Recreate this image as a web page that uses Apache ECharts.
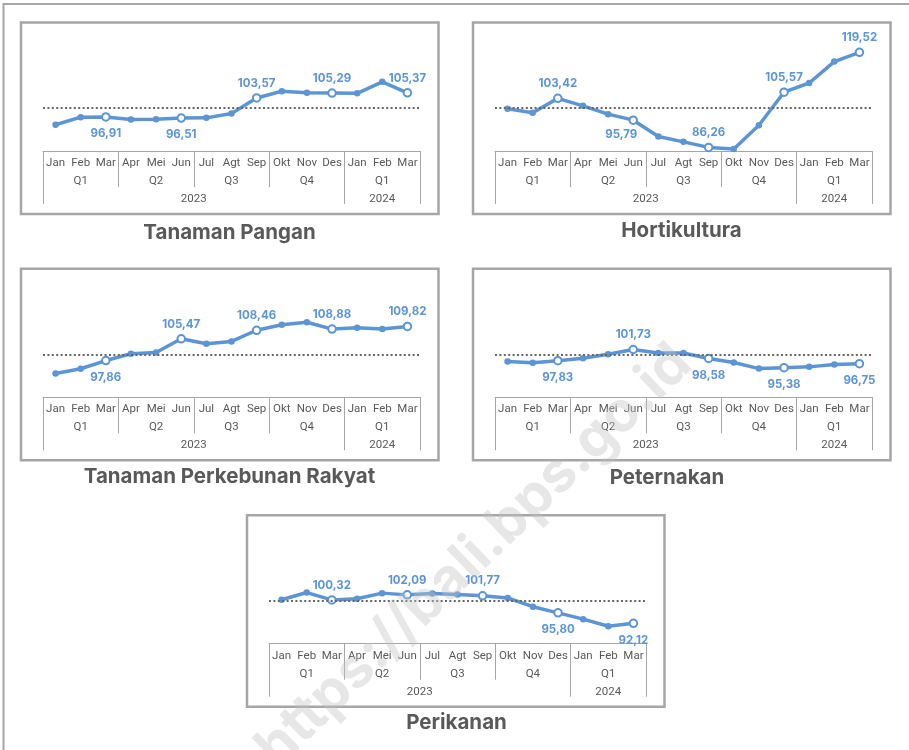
<!DOCTYPE html>
<html>
<head>
<meta charset="utf-8">
<script src="https://cdn.jsdelivr.net/npm/echarts@6/dist/echarts.min.js"></script>
<style>
html, body { margin: 0; padding: 0; background: #fff; }
#chart { width: 909px; height: 750px; }
</style>
</head>
<body>
<div id="chart"></div>
<script>
var months = ['Jan', 'Feb', 'Mar', 'Apr', 'Mei', 'Jun', 'Jul', 'Agt', 'Sep', 'Okt', 'Nov', 'Des', 'Jan', 'Feb', 'Mar'];
var quarters = ['Q1', 'Q2', 'Q3', 'Q4', 'Q1'];
var years = ['2023', '2024'];

var tanamanPangan = [94.2, 96.85, 96.91, 96.05, 96.1, 96.51, 96.6, 98.15, 103.57, 105.9, 105.35, 105.29, 105.2, 109.2, 105.37];
var hortikultura = [99.8, 98.4, 103.42, 100.8, 97.9, 95.79, 90.05, 88.2, 86.26, 85.7, 94.0, 105.57, 108.8, 116.3, 119.52];
var perkebunan = [93.35, 95.0, 97.86, 100.25, 100.7, 105.47, 103.75, 104.55, 108.46, 110.4, 111.25, 108.88, 109.35, 108.9, 109.82];
var peternakan = [97.55, 97.1, 97.83, 98.7, 100.1, 101.73, 100.5, 100.5, 98.58, 97.2, 95.05, 95.38, 95.65, 96.45, 96.75];
var perikanan = [100.4, 102.9, 100.32, 100.75, 102.7, 102.09, 102.6, 102.2, 101.77, 101.0, 97.95, 95.80, 93.6, 91.1, 92.12];

var baseLine = 100;
// months with a hollow marker and a value label (end of each quarter)
var labelIdx = [2, 5, 8, 11, 14];

var blue = '#5b95d6';
var grey = '#a6a6a6';
var axisFont = 'Roboto';

// layout of the five small charts
var panels = [
    { title: 'Tanaman Pangan', data: tanamanPangan, left: 43, top: 51, titleX: 229.5, titleY: 233,
      pos: ['bottom', 'bottom', 'top', 'top', 'top'] },
    { title: 'Hortikultura', data: hortikultura, left: 495, top: 51, titleX: 681.5, titleY: 231,
      pos: ['top', 'bottom', 'top', 'top', 'top'] },
    { title: 'Tanaman Perkebunan Rakyat', data: perkebunan, left: 43, top: 297.3, titleX: 229.5, titleY: 477,
      pos: ['bottom', 'top', 'top', 'top', 'top'] },
    { title: 'Peternakan', data: peternakan, left: 495, top: 297.3, titleX: 667, titleY: 478,
      pos: ['bottom', 'top', 'bottom', 'bottom', 'bottom'] },
    { title: 'Perikanan', data: perikanan, left: 269, top: 543.7, titleX: 456.5, titleY: 723,
      pos: ['top', 'top', 'top', 'bottom', 'bottom'] }
];

var chart = echarts.init(document.getElementById('chart'));

function fmt(v) {
    return v.toFixed(2).replace('.', ',');
}

var grids = [], xAxes = [], yAxes = [], series = [];
var graphics = [{
    type: 'rect', shape: { x: 3.5, y: 4, width: 1000, height: 1000 },
    style: { fill: 'none', stroke: grey, lineWidth: 2 }, z: 1
}];

for (var i = 0; i < panels.length; i++) {
    var p = panels[i];
    grids.push({ left: p.left, top: p.top, width: 377, height: 100 });

    // month row (also draws the top line of the table)
    xAxes.push({
        gridIndex: i, type: 'category', position: 'bottom', data: months, boundaryGap: true,
        axisLine: { show: true, lineStyle: { color: grey, width: 1 } },
        axisTick: { show: false },
        axisLabel: { interval: 0, margin: 6, color: '#595959', fontSize: 11.5, fontFamily: axisFont }
    });
    // quarter row
    xAxes.push({
        gridIndex: i, type: 'value', position: 'bottom', min: 0, max: 15,
        axisLine: { show: false }, splitLine: { show: false },
        axisTick: { show: true, customValues: [0, 3, 6, 9, 12, 15], length: 36, lineStyle: { color: grey, width: 1 } },
        axisLabel: {
            customValues: [1.5, 4.5, 7.5, 10.5, 13.5], margin: 24, color: '#595959', fontSize: 11.5,
            fontFamily: axisFont,
            formatter: function (v) { return quarters[Math.floor(v / 3)]; }
        }
    });
    // year row
    xAxes.push({
        gridIndex: i, type: 'value', position: 'bottom', min: 0, max: 15,
        axisLine: { show: false }, splitLine: { show: false },
        axisTick: { show: true, customValues: [0, 12, 15], length: 53, lineStyle: { color: grey, width: 1 } },
        axisLabel: {
            customValues: [6, 13.5], margin: 42, color: '#595959', fontSize: 11.5,
            fontFamily: axisFont,
            formatter: function (v) { return v < 12 ? years[0] : years[1]; }
        }
    });
    yAxes.push({ gridIndex: i, type: 'value', min: 85, max: 120, show: false });

    var items = [];
    for (var j = 0; j < p.data.length; j++) {
        var k = labelIdx.indexOf(j);
        if (k >= 0) {
            var lab = { show: true, position: p.pos[k], distance: p.pos[k] == 'bottom' ? 6 : 4 };
            if (i == 1 && j == 5) lab.offset = [-12, -2];
            items.push({
                value: p.data[j], symbolSize: 7.5,
                itemStyle: { color: '#fff', borderColor: blue, borderWidth: 2 },
                label: lab
            });
        } else {
            items.push(p.data[j]);
        }
    }

    series.push({
        type: 'line', xAxisIndex: i * 3, yAxisIndex: i, data: items,
        symbol: 'circle', symbolSize: 6.5, z: 3,
        lineStyle: { color: blue, width: 3.5 },
        itemStyle: { color: blue },
        label: {
            show: false, color: blue, fontWeight: 'bold', fontSize: 11.5, fontFamily: 'Inter',
            formatter: function (prm) { return fmt(prm.value); }
        },
        markLine: {
            silent: true, symbol: 'none', label: { show: false },
            lineStyle: { type: [2, 2.4], color: '#666', width: 1.8 },
            data: [{ yAxis: baseLine }]
        }
    });

    graphics.push({
        type: 'rect', shape: { x: p.left - 22, y: p.top - 28.5, width: 417.5, height: 191.5 },
        style: { fill: 'none', stroke: grey, lineWidth: 2.5 }, z: 1
    });
    graphics.push({
        type: 'text', x: p.titleX, y: p.titleY,
        style: { text: p.title, font: 'bold 20.5px Inter', fill: '#595959', align: 'center', verticalAlign: 'middle' }
    });
}

// watermark
graphics.push({
    type: 'text', x: 474, y: 556, rotation: 44 * Math.PI / 180, z: 100, silent: true,
    style: { text: 'https://bali.bps.go.id', font: 'bold 56px Inter', fill: 'rgba(195,195,195,0.4)', align: 'center', verticalAlign: 'middle' }
});

var option = {
    animation: false,
    grid: grids,
    xAxis: xAxes,
    yAxis: yAxes,
    series: series,
    graphic: graphics
};

chart.setOption(option);
</script>
</body>
</html>
